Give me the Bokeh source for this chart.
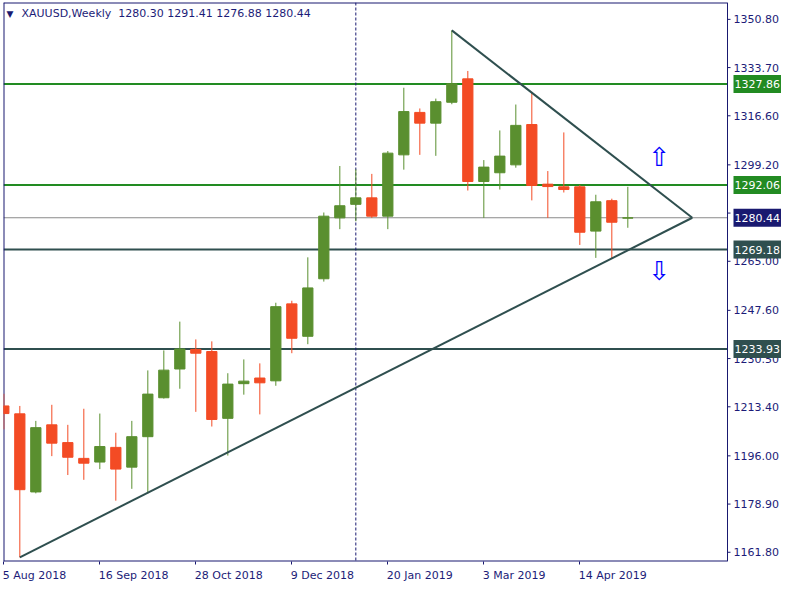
from bokeh.plotting import figure
from bokeh.models import (Range1d, FixedTicker, Span, Label, ColumnDataSource)
from bokeh.core.properties import value
from bokeh.embed import file_html
from bokeh.resources import INLINE

# ---- data (weekly XAUUSD, week index 0 = 5 Aug 2018) ----
opens = [1213.7, 1210.9, 1183.2, 1207.0, 1200.7, 1195.1, 1193.8, 1199.0, 1192.0, 1202.8,
         1216.6, 1226.8, 1233.75, 1233.0, 1209.3, 1221.6, 1223.6, 1222.6, 1249.9, 1238.4,
         1258.8, 1280.4, 1285.2, 1287.5, 1281.0, 1302.75, 1317.8, 1314.0, 1321.4, 1329.7,
         1293.3, 1296.4, 1299.2, 1313.5, 1292.35, 1291.4, 1291.4, 1275.7, 1286.5, 1280.30]
highs = [1218.0, 1213.7, 1208.4, 1214.1, 1207.0, 1212.7, 1211.0, 1204.2, 1208.4, 1226.3,
         1233.4, 1243.6, 1237.3, 1236.6, 1225.3, 1230.2, 1228.8, 1250.3, 1251.0, 1266.4,
         1282.3, 1298.8, 1297.6, 1296.0, 1304.1, 1326.55, 1319.2, 1322.7, 1346.9, 1332.5,
         1300.9, 1311.4, 1320.6, 1324.7, 1297.0, 1310.7, 1292.1, 1288.6, 1287.2, 1291.41]
lows = [1205.4, 1160.0, 1182.7, 1195.9, 1189.2, 1187.5, 1191.3, 1180.1, 1184.3, 1182.7,
        1216.3, 1219.8, 1211.6, 1206.4, 1196.1, 1217.7, 1210.7, 1220.85, 1232.4, 1235.6,
        1257.8, 1276.4, 1279.2, 1280.4, 1276.4, 1297.5, 1302.75, 1302.4, 1320.7, 1290.1,
        1280.4, 1290.45, 1298.2, 1286.6, 1280.4, 1289.4, 1270.8, 1266.2, 1266.1, 1276.88]
closes = [1211.0, 1184.0, 1206.0, 1200.5, 1195.5, 1193.4, 1199.3, 1191.3, 1202.8, 1217.9,
          1226.4, 1233.9, 1232.4, 1208.9, 1221.45, 1222.5, 1221.9, 1248.9, 1237.7, 1255.55,
          1281.0, 1284.7, 1287.5, 1281.0, 1303.35, 1318.1, 1314.0, 1321.6, 1327.95, 1293.3,
          1298.4, 1302.3, 1313.2, 1291.9, 1291.5, 1290.45, 1275.3, 1286.1, 1278.85, 1280.44]
weeks = list(range(len(opens)))

date_tick_weeks = [0, 6, 12, 18, 24, 30, 36]
date_tick_labels = ["5 Aug 2018", "16 Sep 2018", "28 Oct 2018", "9 Dec 2018",
                    "20 Jan 2019", "3 Mar 2019", "14 Apr 2019"]
price_ticks = [1350.80, 1333.70, 1316.60, 1299.20, 1282.10, 1265.00,
               1247.60, 1230.50, 1213.40, 1196.00, 1178.90, 1161.80]

green_levels = [1327.86, 1292.06]
slate_levels = [1269.18, 1233.93]
bid_level = 1280.44
separator_week = 22

lower_trend_x = [1.0, 43.03]
lower_trend_y = [1160.0, 1280.44]
upper_trend_x = [28.0, 43.03]
upper_trend_y = [1346.9, 1280.44]

arrow_x = [40.95, 40.95]
arrow_y = [1302.1, 1261.7]
arrow_text = ["\u21e7", "\u21e9"]

title_text = "XAUUSD,Weekly\u00a0 1280.30 1291.41 1276.88 1280.44"

# ---- styles / layout ----
BULL = "#5A8F2F"
BEAR = "#F34B24"
NAVY = "#1C1C78"
FRAME = "#191970"
GREEN = "#228B22"
SLATE = "#2F4F4F"
FONT = "DejaVu Sans"

W, H = 784, 584
FL, FT, FB = 3, 2, 18               # borders around the plotting frame (px)
AXIS_PX = 724                       # price scale line, px from the frame's left edge
PX_PER_WEEK = 16.0
X0 = -0.02
X1 = X0 + (W - FL) / PX_PER_WEEK
XA = X0 + AXIS_PX / PX_PER_WEEK     # x of the price scale line (data units)
TICK = 3 / PX_PER_WEEK
Y0, Y1 = 1158.53, 1356.78

# approximate DejaVu Sans advance widths (em) to left-align date labels at their ticks
CW = {d: 0.636 for d in "0123456789"}
CW.update({" ": 0.318, "A": 0.684, "u": 0.634, "g": 0.635, "S": 0.635, "e": 0.615,
           "p": 0.635, "O": 0.787, "c": 0.550, "t": 0.392, "D": 0.770, "J": 0.295,
           "a": 0.613, "n": 0.634, "M": 0.863, "r": 0.411})
def text_px(s, size=11):
    return sum(CW.get(ch, 0.6) for ch in s) * size

p = figure(width=W, height=H, output_backend="svg", toolbar_location=None, tools="",
           x_range=Range1d(X0, X1), y_range=Range1d(Y0, Y1),
           min_border_left=FL, min_border_top=FT, min_border_right=0, min_border_bottom=FB,
           background_fill_color="white", border_fill_color="white",
           outline_line_color=None)
p.grid.visible = False
p.yaxis.visible = False

# bottom date axis: labels left-aligned at their week (label ticks shifted by half
# the label width); the week tick marks are drawn as minor ticks
label_pos = [w + (text_px(l) / 2 - 1) / PX_PER_WEEK for w, l in zip(date_tick_weeks, date_tick_labels)]
xa = p.xaxis[0]
xa.ticker = FixedTicker(ticks=label_pos, minor_ticks=date_tick_weeks)
xa.major_label_overrides = {lp: l for lp, l in zip(label_pos, date_tick_labels)}
xa.axis_line_color = None
xa.major_tick_line_color = None
xa.major_tick_in = 0
xa.major_tick_out = 0
xa.minor_tick_line_color = FRAME
xa.minor_tick_in = 0
xa.minor_tick_out = 3
xa.major_label_standoff = 4
xa.major_label_text_color = NAVY
xa.major_label_text_font = FONT
xa.major_label_text_font_size = "11px"

# chart frame (left, top, bottom edges) and price scale line
p.line([X0, X0], [Y0, Y1], line_color=FRAME, line_width=2)
p.line([X0, XA], [Y1, Y1], line_color=FRAME, line_width=2)
p.line([X0, XA], [Y0, Y0], line_color=FRAME, line_width=2)
p.line([XA, XA], [Y0, Y1], line_color=FRAME, line_width=1)

# price scale: tick marks and labels
p.segment(x0=[XA] * len(price_ticks), y0=price_ticks, x1=[XA + TICK] * len(price_ticks),
          y1=price_ticks, line_color=FRAME, line_width=1)
p.text(x=[XA] * len(price_ticks), y=price_ticks, text=[f"{t:.2f}" for t in price_ticks],
       x_offset=6, text_font=value(FONT), text_font_size="11px", text_color=NAVY,
       text_align="left", text_baseline="middle")

# horizontal levels (behind candles)
for lv in green_levels:
    p.line([X0, XA], [lv, lv], line_color=GREEN, line_width=2, level="underlay")
for lv in slate_levels:
    p.line([X0, XA], [lv, lv], line_color=SLATE, line_width=2, level="underlay")
p.line([X0, XA], [bid_level, bid_level], line_color="#8A8A8A", line_width=1, level="underlay")
p.add_layout(Span(location=separator_week, dimension="height", line_color=FRAME,
                  line_width=1, line_dash="3 2", level="underlay"))

# candles
colors = [BULL if c >= o else BEAR for o, c in zip(opens, closes)]
src = ColumnDataSource(dict(
    x=weeks, o=opens, h=highs, l=lows, c=closes,
    top=[max(o, c) for o, c in zip(opens, closes)],
    bottom=[min(o, c) for o, c in zip(opens, closes)],
    color=colors))
p.segment(x0="x", y0="l", x1="x", y1="h", color="color", line_width=1, source=src)
p.vbar(x="x", width=0.64, top="top", bottom="bottom", fill_color="color",
       line_color="color", line_width=1, source=src)

# trend lines
p.line(lower_trend_x, lower_trend_y, line_color=SLATE, line_width=2)
p.line(upper_trend_x, upper_trend_y, line_color=SLATE, line_width=2)

# arrows
p.text(x=arrow_x, y=arrow_y, text=arrow_text, text_font=value(FONT), text_font_size="26px",
       text_color="#0000FF", text_align="center", text_baseline="middle")

# price tags on the price scale
tags = [(green_levels[0], GREEN), (green_levels[1], GREEN), (bid_level, "#191970"),
        (slate_levels[0], SLATE), (slate_levels[1], SLATE)]
for lv, bg in tags:
    p.add_layout(Label(x=XA, y=lv, x_offset=6, text=f"{lv:.2f}",
                       text_color="white", text_font=FONT, text_font_size="11px",
                       text_align="left", text_baseline="middle",
                       background_fill_color=bg, padding=(1, 5)))

# title
p.add_layout(Label(x=X0, y=Y1, x_offset=3, y_offset=-6, text="\u25bc", text_color=FRAME,
                   text_font=FONT, text_font_size="9px", text_baseline="top"))
p.add_layout(Label(x=X0, y=Y1, x_offset=18, y_offset=-4, text=title_text, text_color=NAVY,
                   text_font=FONT, text_font_size="11px", text_baseline="top"))

open("out.html", "w").write(file_html(p, INLINE))
